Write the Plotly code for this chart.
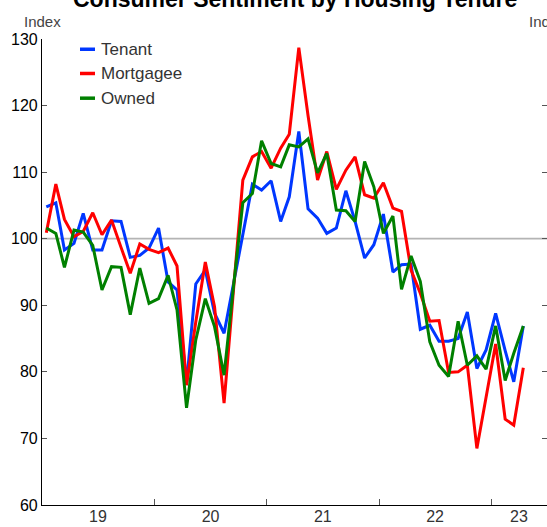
import pandas as pd
import plotly.graph_objects as go

# Monthly data, Jan 2019 - Apr 2023
months = pd.date_range("2019-01-01", periods=52, freq="MS") + pd.Timedelta(days=14)

tenant = [104.8, 105.4, 98.3, 99.3, 103.8, 98.3, 98.3, 102.7, 102.6, 97.2, 97.5, 98.6,
          101.6, 93.5, 92.3, 78.3, 93.2, 95.3, 88.8, 85.8, 93.3, 100.7, 108.2, 107.3,
          108.7, 102.6, 106.3, 116.1, 104.5, 103.1, 100.8, 101.6, 107.2, 102.6, 97.1, 99.1,
          103.7, 95.0, 96.1, 96.2, 86.4, 87.0, 84.6, 84.6, 85.0, 89.0, 80.5, 83.3,
          88.8, 83.2, 78.5, 86.9]
mortgagee = [100.9, 108.2, 102.9, 100.3, 101.1, 103.9, 100.6, 102.8, 98.7, 94.8, 99.2, 98.4,
             97.9, 98.6, 95.9, 78.0, 87.5, 96.5, 89.8, 75.3, 92.5, 108.8, 112.3, 113.1,
             110.6, 113.6, 115.7, 128.7, 118.5, 108.8, 113.1, 107.4, 110.3, 112.3, 106.6, 106.1,
             108.4, 104.6, 104.1, 95.3, 91.8, 87.6, 87.7, 79.9, 80.0, 81.0, 68.5, 76.3,
             84.2, 72.9, 72.0, 80.6]
owned = [101.6, 100.8, 95.7, 101.3, 101.0, 99.0, 92.3, 95.8, 95.7, 88.6, 95.6, 90.3,
         91.0, 94.5, 89.3, 74.6, 84.8, 91.0, 86.8, 79.5, 93.0, 105.4, 106.8, 114.7,
         111.3, 110.8, 114.1, 113.8, 115.0, 109.9, 112.8, 104.3, 104.2, 102.6, 111.6, 107.8,
         100.8, 103.4, 92.4, 97.4, 93.6, 84.5, 81.0, 79.3, 87.6, 81.0, 82.4, 80.4,
         86.9, 78.7, 82.8, 86.9]

series_names = ["Tenant", "Mortgagee", "Owned"]
series_colors = ["#0037FF", "#FF0000", "#008000"]
year_labels = ["19", "20", "21", "22", "23"]
year_label_pos = ["2019-07-02", "2020-07-02", "2021-07-02", "2022-07-02", "2023-04-01"]
year_ticks = ["2020-01-01", "2021-01-01", "2022-01-01", "2023-01-01"]
y_ticks = [60, 70, 80, 90, 100, 110, 120, 130]

FONT = "Liberation Sans, Arial, sans-serif"

fig = go.Figure()
for name, vals, col in zip(series_names, [tenant, mortgagee, owned], series_colors):
    fig.add_trace(go.Scatter(x=months, y=vals, mode="lines", name=name,
                             line=dict(color=col, width=3), showlegend=False))

# dummy trace to activate the label axis
fig.add_trace(go.Scatter(x=[months[0]], y=[None], xaxis="x2", showlegend=False,
                         hoverinfo="skip"))

fig.add_hline(y=100, line=dict(color="#B4B4B4", width=1.8), layer="below")

x_range = ["2019-01-01", "2023-07-01"]
fig.update_layout(
    width=547, height=527,
    margin=dict(l=42, r=0, t=39, b=22),
    plot_bgcolor="white", paper_bgcolor="white",
    font=dict(family=FONT, size=16, color="#000"),
    xaxis=dict(range=x_range, type="date", tickvals=year_ticks, showticklabels=False,
               ticks="inside", ticklen=6, tickcolor="#555", showgrid=False,
               showline=True, linecolor="#000", linewidth=1.2, zeroline=False),
    xaxis2=dict(range=x_range, type="date", overlaying="x", tickvals=year_label_pos,
                ticktext=year_labels, ticks="", showgrid=False, showline=False,
                side="bottom", zeroline=False, tickfont=dict(size=16, color="#333"),
                ticklabelstandoff=0),
    yaxis=dict(range=[60, 130], tickvals=y_ticks, ticks="inside", ticklen=5,
               tickcolor="#555", showgrid=False, showline=True, linecolor="#000",
               linewidth=1.2, mirror="ticks", zeroline=False,
               tickfont=dict(size=16, color="#000")),
)

# Legend (manual, short line samples)
leg_y = [0.978, 0.926, 0.873]
for name, col, yy in zip(series_names, series_colors, leg_y):
    fig.add_shape(type="line", xref="paper", yref="paper", x0=0.0752, x1=0.105,
                  y0=yy, y1=yy, line=dict(color=col, width=3.5))
    fig.add_annotation(xref="paper", yref="paper", x=0.1129, y=yy, text=name,
                       showarrow=False, xanchor="left", yanchor="middle",
                       font=dict(size=17, color="#333"))

fig.add_annotation(xref="paper", yref="paper", x=0, y=1.0386, text="Index",
                   showarrow=False, xanchor="center", yanchor="middle",
                   font=dict(size=15, color="#444"))
fig.add_annotation(xref="paper", yref="paper", x=1, y=1.0386, text="Index",
                   showarrow=False, xanchor="center", yanchor="middle",
                   font=dict(size=15, color="#444"))
fig.add_annotation(xref="paper", yref="paper", x=0.5, y=1.0855, text="<b>Consumer Sentiment by Housing Tenure</b>",
                   showarrow=False, xanchor="center", yanchor="middle",
                   font=dict(size=23, color="#000"))

fig.write_html("out.html", config={"displayModeBar": False},
               post_script="document.body.style.margin='0';document.body.style.overflow='hidden';")
